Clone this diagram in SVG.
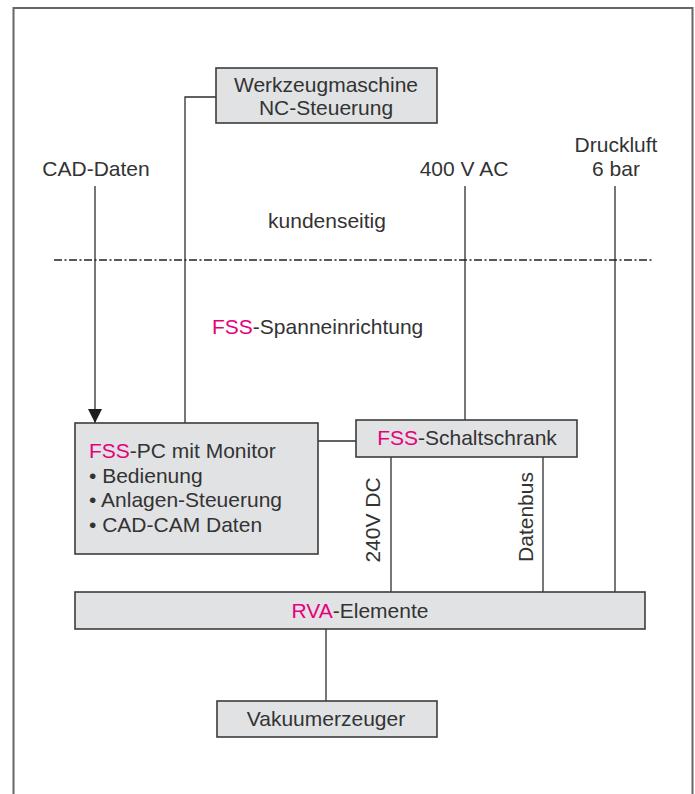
<svg xmlns="http://www.w3.org/2000/svg" width="695" height="794" viewBox="0 0 695 794">
<defs>
<style>
text{font-family:"Liberation Sans",Arial,sans-serif;font-size:21px;fill:#333}
.c{text-anchor:middle}
.m{fill:#e6007e}
.box{fill:#e1e2e4;stroke:#3c3c3c;stroke-width:1.6}
.ln{fill:none;stroke:#2e2e2e;stroke-width:1.3}
</style>
<marker id="ah" markerWidth="14" markerHeight="14" refX="14" refY="7" orient="auto" markerUnits="userSpaceOnUse">
<path d="M0,0 L14,7 L0,14 Z" fill="#1e1e1e"/>
</marker>
</defs>
<rect width="695" height="794" fill="#fff"/>
<path d="M13.5,800 V8 H692.5 V800" fill="none" stroke="#666" stroke-width="2"/>
<g id="connectors">
<line class="ln" x1="95" y1="186" x2="95" y2="423" marker-end="url(#ah)"/>
<polyline class="ln" points="216,97 185,97 185,423"/>
<line class="ln" x1="465" y1="186" x2="465" y2="420"/>
<line class="ln" x1="615" y1="186" x2="615" y2="592"/>
<line class="ln" x1="318" y1="441" x2="356" y2="441"/>
<line class="ln" x1="391" y1="457" x2="391" y2="592"/>
<line class="ln" x1="543" y1="457" x2="543" y2="592"/>
<line class="ln" x1="326" y1="629" x2="326" y2="701"/>
<line x1="54" y1="260" x2="654" y2="260" stroke="#222" stroke-width="1.4" stroke-dasharray="8,2.5,2,2.5"/>
</g>
<g id="werkzeugmaschine">
<rect class="box" x="216" y="68" width="221" height="55"/>
<text class="c" x="326" y="92">Werkzeugmaschine</text>
<text class="c" x="326" y="115">NC-Steuerung</text>
</g>
<g id="cad-daten"><text class="c" x="96" y="176">CAD-Daten</text></g>
<g id="ac400"><text class="c" x="464" y="176">400 V AC</text></g>
<g id="druckluft">
<text class="c" x="616" y="152">Druckluft</text>
<text class="c" x="616" y="176">6 bar</text>
</g>
<g id="kundenseitig"><text class="c" x="327" y="228">kundenseitig</text></g>
<g id="spanneinrichtung"><text x="212" y="334"><tspan class="m">FSS</tspan>-Spanneinrichtung</text></g>
<g id="fss-pc">
<rect class="box" x="75" y="423" width="243" height="131"/>
<text x="89" y="458"><tspan class="m">FSS</tspan>-PC mit Monitor</text>
<text x="89" y="483">• Bedienung</text>
<text x="89" y="507">• Anlagen-Steuerung</text>
<text x="89" y="532">• CAD-CAM Daten</text>
</g>
<g id="schaltschrank">
<rect class="box" x="356" y="420" width="221" height="37"/>
<text class="c" x="467" y="445"><tspan class="m">FSS</tspan>-Schaltschrank</text>
</g>
<g id="dc240"><text class="c" transform="translate(380,520) rotate(-90)">240V DC</text></g>
<g id="datenbus"><text class="c" transform="translate(533,517) rotate(-90)">Datenbus</text></g>
<g id="rva">
<rect class="box" x="75" y="592" width="570" height="37"/>
<text class="c" x="360" y="618"><tspan class="m">RVA</tspan>-Elemente</text>
</g>
<g id="vakuum">
<rect class="box" x="217" y="701" width="220" height="36"/>
<text class="c" x="326" y="726">Vakuumerzeuger</text>
</g>
</svg>
